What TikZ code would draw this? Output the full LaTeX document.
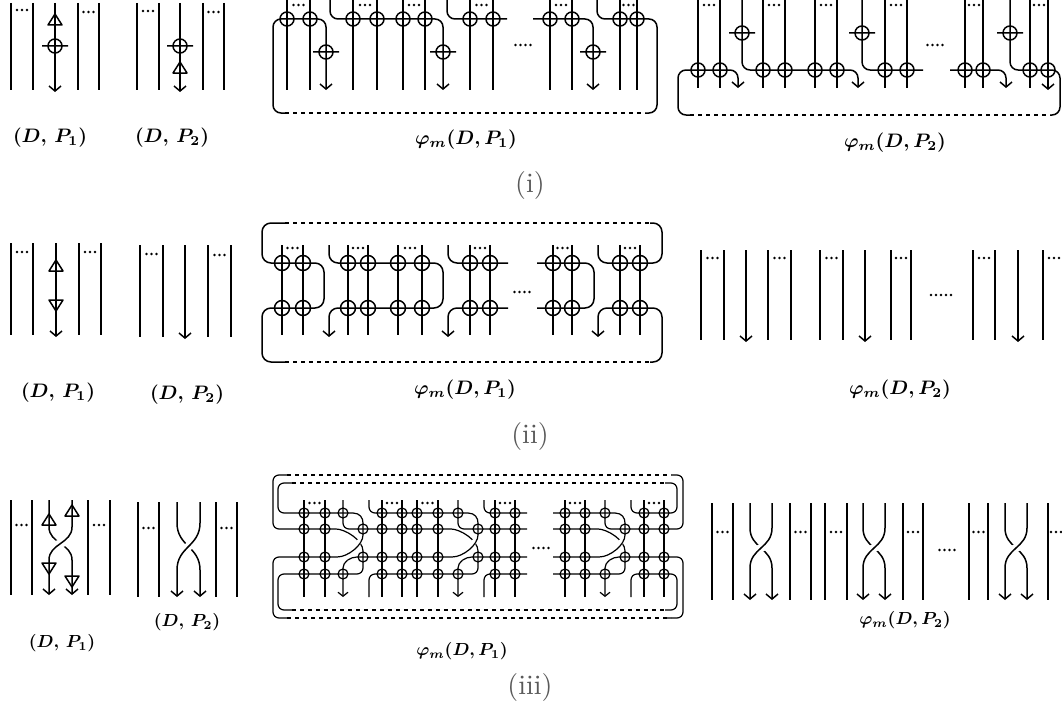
\documentclass[tikz,border=0pt]{standalone}
\usetikzlibrary{arrows.meta}
\newcommand\Dthree[2]{\fill (#1-5,#2) circle[radius=1.4pt] (#1,#2) circle[radius=1.4pt] (#1+5,#2) circle[radius=1.4pt];}
\newcommand\Dfour[2]{\fill (#1-7.5,#2) circle[radius=1.4pt] (#1-2.5,#2) circle[radius=1.4pt] (#1+2.5,#2) circle[radius=1.4pt] (#1+7.5,#2) circle[radius=1.4pt];}
\newcommand\Dfive[2]{\fill (#1-10,#2) circle[radius=1.4pt] (#1-5,#2) circle[radius=1.4pt] (#1,#2) circle[radius=1.4pt] (#1+5,#2) circle[radius=1.4pt] (#1+10,#2) circle[radius=1.4pt];}
\newcommand\Utri[2]{\draw[str] (#1,#2-6) -- (#1-7,#2+5) -- (#1+7,#2+5) -- cycle;}
\newcommand\Dtri[2]{\draw[str] (#1,#2+6) -- (#1-7,#2-5) -- (#1+7,#2-5) -- cycle;}
\newcommand\Vbar[2]{\draw[str] (#1,#2) circle[radius=7pt] (#1-13,#2) -- (#1+13,#2);}
\newcommand\Xing[6]{%
 \pgfmathsetmacro\XmidY{(#5+#6)/2}%
 \draw[str,arr] (#1,#3) -- (#1,#5) .. controls (#1,\XmidY) and (#2,\XmidY) .. (#2,#6) -- (#2,#4);
 \draw[white,line width=8pt,shorten <=10pt,shorten >=10pt] (#2,#5) .. controls (#2,\XmidY) and (#1,\XmidY) .. (#1,#6);
 \draw[str,arr] (#2,#3) -- (#2,#5) .. controls (#2,\XmidY) and (#1,\XmidY) .. (#1,#6) -- (#1,#4);}
\begin{document}
\begin{tikzpicture}[x=1pt,y=-1pt,
  str/.style={line width=1.5pt, line join=round},
  thin/.style={line width=1.2pt, line join=round},
  dsh/.style={line width=1.2pt, dash pattern=on 4pt off 4pt},
  arr/.style={-{Straight Barb[length=5pt,width=12pt]}},
  sarr/.style={-{Straight Barb[length=4pt,width=10pt]}},
  lab/.style={font=\boldmath, scale=1.95, inner sep=0pt},
  slab/.style={font=\boldmath, scale=1.75, inner sep=0pt},
  rlab/.style={scale=2.8, text=black!65, inner sep=0pt}]
\useasboundingbox (0,0) rectangle (1062,709);

% ================= ROW (i) =================
% panel 1
\foreach \x in {11,33,78,99} \draw[str] (\x,3) -- (\x,90);
\draw[str,arr] (55,3) -- (55,92);
\Utri{55}{20}
\Vbar{55}{46}
\Dthree{22}{10} \Dthree{88.5}{12}
% panel 2
\foreach \x in {137,159,203,224} \draw[str] (\x,3) -- (\x,90);
\draw[str,arr] (180,3) -- (180,92);
\Vbar{180}{46}
\Utri{180}{68}
\Dthree{148}{11} \Dthree{213.5}{12}
% panel 3
\foreach \x in {287,310,353,377,403,425,470,493,550,572,620,637} \draw[str] (\x,0) -- (\x,90);
\draw[dsh] (285,113) -- (645,113);
\begin{scope}[rounded corners=8pt]
\draw[str,arr] (285,113) -- (273,113) -- (273,19) -- (326,19) -- (326,90);
\draw[str,arr] (330,0) -- (330,19) -- (443,19) -- (443,90);
\draw[str] (447,0) -- (447,19) -- (507,19);
\draw[str,arr] (533,19) -- (593,19) -- (593,90);
\draw[str] (597,0) -- (597,19) -- (657,19) -- (657,113) -- (645,113);
\end{scope}
\foreach \x in {287,310,353,377,403,425,470,493,550,572,620,637} \draw[str] (\x,19) circle[radius=7pt];
\Vbar{326}{52} \Vbar{443}{52} \Vbar{593}{52}
\Dthree{298.5}{5} \Dthree{365}{5} \Dthree{414}{5} \Dthree{481.5}{5} \Dthree{561}{5} \Dthree{628.5}{5}
\Dfour{523}{45}
% panel 4
\foreach \x in {698,720,763,785,815,837,885,907,965,983,1030} \draw[str] (\x,0) -- (\x,88);
\draw[str,arr] (1048,0) -- (1048,90);
\draw[dsh] (690,115) -- (1050,115);
\begin{scope}[rounded corners=8pt]
\draw[str,arr] (690,115) -- (678,115) -- (678,70) -- (738,70) -- (738,88);
\draw[str,arr] (742,0) -- (742,70) -- (858,70) -- (858,88);
\draw[str] (862,0) -- (862,70) -- (923,70);
\draw[str,arr] (950,70) -- (1006,70) -- (1006,88);
\draw[str] (1010,0) -- (1010,70) -- (1060,70) -- (1060,115) -- (1050,115);
\end{scope}
\foreach \x in {698,720,763,785,815,837,885,907,965,983,1030,1048} \draw[str] (\x,70) circle[radius=7pt];
\Vbar{742}{33} \Vbar{862}{33} \Vbar{1010}{33}
\Dthree{709}{5} \Dthree{774}{5} \Dthree{826}{5} \Dthree{896}{5} \Dthree{974}{5} \Dthree{1039}{5}
\Dfour{935}{45}

% ================= ROW (ii) =================
\foreach \x in {11,33,79,101} \draw[str] (\x,243) -- (\x,335);
\draw[str,arr] (56,243) -- (56,337);
\Utri{56}{266} \Dtri{56}{305}
\Dthree{22}{252} \Dthree{90}{252}
\foreach \x in {140,163,208,231} \draw[str] (\x,245) -- (\x,337);
\draw[str,arr] (185,245) -- (185,339);
\Dthree{151.5}{254} \Dthree{219.5}{255}
% panel 3
\foreach \x in {282,303,348,368,398,422,470,490,553,572,620,640} \draw[str] (\x,245) -- (\x,335);
\draw[dsh] (285,223) -- (650,223);
\draw[dsh] (285,362) -- (650,362);
\begin{scope}[rounded corners=9pt]
\draw[str] (285,223) -- (262,223) -- (262,263) -- (324,263) -- (324,308) -- (262,308) -- (262,362) -- (285,362);
\draw[str,arr] (329,245) -- (329,263) -- (443,263) -- (443,308) -- (329,308) -- (329,337);
\draw[str] (448,245) -- (448,263) -- (508,263);
\draw[str,arr] (508,308) -- (448,308) -- (448,337);
\draw[str] (537,263) -- (594,263) -- (594,308) -- (537,308);
\draw[str] (598,245) -- (598,263) -- (662,263) -- (662,223) -- (650,223);
\draw[str,arr] (650,362) -- (662,362) -- (662,308) -- (598,308) -- (598,337);
\end{scope}
\foreach \x in {282,303,348,368,398,422,470,490,553,572,620,640}
  \foreach \y in {263,308} \draw[str] (\x,\y) circle[radius=7.5pt];
\Dthree{292.5}{248} \Dthree{358}{248} \Dthree{410}{248} \Dthree{480}{248} \Dthree{562.5}{248} \Dthree{630}{248}
\Dfour{522}{292}
% panel 4
\foreach \x in {701,724,768,791,820,843,891,911,973,995,1043} \draw[str] (\x,250) -- (\x,340);
\foreach \x in {746,865,1018} \draw[str,arr] (\x,250) -- (\x,342);
\Dthree{712.5}{258} \Dthree{779.5}{258} \Dthree{831.5}{258} \Dthree{901}{258} \Dthree{984}{258} \Dthree{1054}{258}
\Dfive{941}{295}

% ================= ROW (iii) =================
\foreach \x in {11,32,88,110} \draw[str] (\x,500) -- (\x,595);
\Dthree{21.5}{525} \Dthree{99}{525}
\Xing{49}{72}{500}{595}{527}{560}
\Utri{49}{520} \Utri{72}{511} \Dtri{49}{568} \Dtri{72}{581}
\foreach \x in {138,159,216,237} \draw[str] (\x,502) -- (\x,597);
\Dthree{148.5}{528} \Dthree{226.5}{528}
\Xing{177}{200}{502}{597}{523}{570}
% panel 3
\foreach \x in {304,325,382,402,417,438,495,515,565,585,644,664} \draw[thin] (\x,500) -- (\x,597);
\draw[dsh] (292,483) -- (665,483);
\draw[dsh] (287,475) -- (671,475);
\draw[dsh] (292,610) -- (665,610);
\draw[dsh] (287,618) -- (671,618);
\begin{scope}[rounded corners=6pt]
\draw[thin] (287,475) -- (273,475) -- (273,529) -- (330,529) .. controls (345,529) and (363,540) .. (363,557) -- (363,574) -- (278,574) -- (278,610) -- (292,610);
\draw[thin] (343,500) -- (343,529) -- (445,529) .. controls (460,529) and (478,540) .. (478,557) -- (478,574) -- (369,574) -- (369,597);
\draw[thin] (458,500) -- (458,529) -- (527,529);
\draw[thin] (527,574) -- (484,574) -- (484,597);
\draw[thin] (553,529) -- (592,529) .. controls (607,529) and (625,540) .. (625,557) -- (625,574) -- (553,574);
\draw[thin] (605,500) -- (605,529) -- (683,529) -- (683,475) -- (671,475);
\draw[thin] (665,610) -- (677,610) -- (677,574) -- (631,574) -- (631,597);
\foreach \c in {363,478,625} \draw[white,line width=5pt,rounded corners=0pt] (\c-0.5,537.5) -- (\c-7.5,546.5);
\draw[thin] (292,483) -- (278,483) -- (278,513) -- (347,513) .. controls (360,513) and (363,518) .. (363,529) .. controls (363,545) and (348,557) .. (331,557) -- (273,557) -- (273,618) -- (287,618);
\draw[thin,sarr] (369,500) -- (369,513) -- (462,513) .. controls (475,513) and (478,518) .. (478,529) .. controls (478,545) and (463,557) .. (446,557) -- (363,557) .. controls (350,557) and (343,562) .. (343,574) -- (343,597);
\draw[thin] (484,500) -- (484,513) -- (527,513);
\draw[thin,sarr] (527,557) -- (478,557) .. controls (465,557) and (458,562) .. (458,574) -- (458,597);
\draw[thin] (553,513) -- (609,513) .. controls (622,513) and (625,518) .. (625,529) .. controls (625,545) and (610,557) .. (593,557) -- (553,557);
\draw[thin] (631,500) -- (631,513) -- (677,513) -- (677,483) -- (665,483);
\draw[thin,sarr] (665,618) -- (683,618) -- (683,557) -- (625,557) .. controls (612,557) and (605,562) .. (605,574) -- (605,597);
\end{scope}
\foreach \x in {304,325,382,402,417,438,495,515,565,585,644,664}
  \foreach \y in {513,529,557,574} \draw[thin] (\x,\y) circle[radius=5pt];
\foreach \x in {343,458,605} \draw[thin] (\x,513) circle[radius=5pt] (\x,574) circle[radius=5pt];
\foreach \x in {363,478,625} \draw[thin] (\x,529) circle[radius=5pt] (\x,557) circle[radius=5pt];
\Dthree{314.5}{503} \Dthree{392}{503} \Dthree{427.5}{503} \Dthree{505}{503} \Dthree{575}{503} \Dthree{654}{503}
\Dfour{541}{548}
% panel 4
\foreach \x in {712,733,790,811,825,847,903,923,969,988,1048} \draw[str] (\x,503) -- (\x,600);
\Xing{750}{772}{503}{600}{528}{568}
\Xing{863}{885}{503}{600}{528}{568}
\Xing{1005}{1027}{503}{600}{528}{568}
\Dthree{722.5}{532} \Dthree{800.5}{532} \Dthree{836}{532} \Dthree{913}{532} \Dthree{978.5}{532} \Dthree{1056}{532}
\Dfour{947}{550}

% ================= LABELS =================
\node[lab] (l1a) at (50,138) {$(D,\,P_1)$};
\node[lab] (l1b) at (172,138) {$(D,\,P_2)$};
\node[lab] (l1c) at (466,140) {$\varphi_m(D,P_1)$};
\node[lab] (l1d) at (895,143) {$\varphi_m(D,P_2)$};
\node[rlab] (r1) at (530,185) {(i)};
\node[lab] (l2a) at (58,393) {$(D,\,P_1)$};
\node[lab] (l2b) at (187,395) {$(D,\,P_2)$};
\node[lab] (l2c) at (465,390) {$\varphi_m(D,P_1)$};
\node[lab] (l2d) at (900,390) {$\varphi_m(D,P_2)$};
\node[rlab] (r2) at (530,436) {(ii)};
\node[slab] (l3a) at (62,643) {$(D,\,P_1)$};
\node[slab] (l3b) at (187,622) {$(D,\,P_2)$};
\node[slab] (l3c) at (462,651) {$\varphi_m(D,P_1)$};
\node[slab] (l3d) at (905,620) {$\varphi_m(D,P_2)$};
\node[rlab] (r3) at (530,687) {(iii)};
\end{tikzpicture}
\end{document}
